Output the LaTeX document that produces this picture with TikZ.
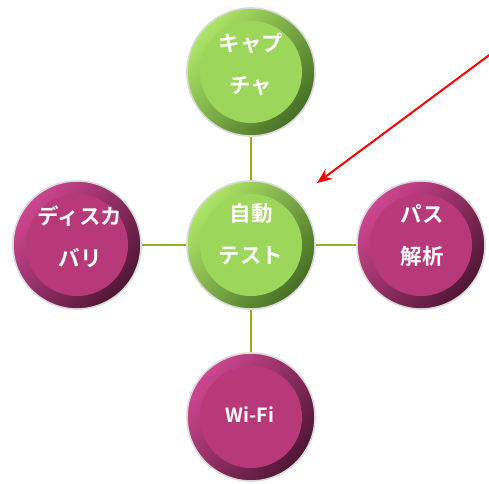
\documentclass[tikz,border=0pt]{standalone}
\usepackage{fontspec}
\newfontfamily\jp{Noto Sans CJK JP}[BoldFont={Noto Sans CJK JP Bold}]
\usetikzlibrary{arrows.meta,backgrounds}
\definecolor{gLight}{HTML}{AEE668}
\definecolor{gDark}{HTML}{466E24}
\definecolor{gInner}{HTML}{9CD75C}
\definecolor{mLight}{HTML}{CE4690}
\definecolor{mDark}{HTML}{4E1634}
\definecolor{mInner}{HTML}{B8397A}
\definecolor{linkGreen}{HTML}{8AB41C}
\tikzset{
  ringbase/.style={circle, minimum size=128pt, inner sep=0pt, draw=gray!30, line width=1.6pt},
  greenring/.style={ringbase, top color=gLight, bottom color=gDark, shading angle=50},
  magring/.style={ringbase, top color=mLight, bottom color=mDark, shading angle=50},
  innerdisc/.style={circle, minimum size=102pt, inner sep=0pt},
  greeninner/.style={innerdisc, fill=gInner},
  maginner/.style={innerdisc, fill=mInner},
  label/.style={text=white, align=center, font=\jp\bfseries\fontsize{21.5}{42}\selectfont},
  link/.style={draw=linkGreen, line width=2.4pt},
  pointer/.style={draw=red, line width=2pt, -{Stealth[length=15pt,width=12pt]}}
}
\begin{document}
\begin{tikzpicture}[x=1pt,y=-1pt]
\useasboundingbox (0,0) rectangle (489,483);
% outer rings
\node[greenring] (capO) at (251,72) {};
\node[greenring] (autoO) at (251,245) {};
\node[magring] (discO) at (77,245) {};
\node[magring] (pathO) at (421,245) {};
\node[magring] (wifiO) at (251,417) {};
% inner discs
\node[greeninner] (capI) at (capO) {};
\node[greeninner] (autoI) at (autoO) {};
\node[maginner] (discI) at (discO) {};
\node[maginner] (pathI) at (pathO) {};
\node[maginner] (wifiI) at (wifiO) {};
% labels
\node[label] (capT) at (251,64) {キャプ\\チャ};
\node[label] (autoT) at (251,234) {自動\\テスト};
\node[label] (discT) at (80,237) {ディスカ\\バリ};
\node[label] (pathT) at (422,235) {パス\\解析};
\node[label, font=\jp\bfseries\fontsize{19.5}{24}\selectfont] (wifiT) at (250,415) {Wi-Fi};
% connectors
\begin{scope}[on background layer]
\draw[link] (capO) -- (autoO);
\draw[link] (autoO) -- (wifiO);
\draw[link] (discO) -- (autoO);
\draw[link] (autoO) -- (pathO);
\end{scope}
% red pointer
\coordinate (ptrStart) at (492,53);
\coordinate (ptrEnd) at (317,183);
\draw[pointer] (ptrStart) -- (ptrEnd);
\end{tikzpicture}
\end{document}
